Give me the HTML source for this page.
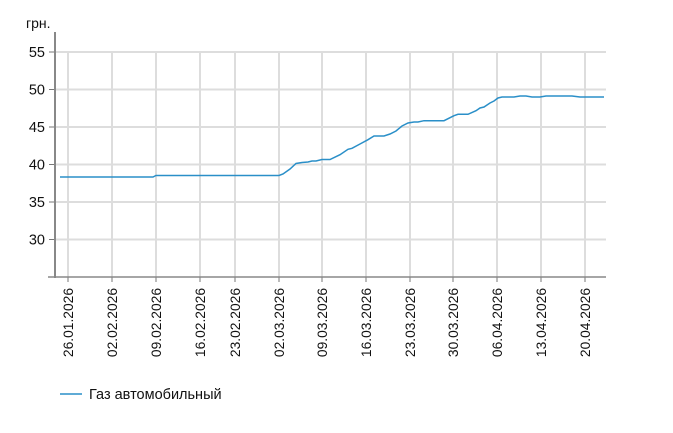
<!DOCTYPE html>
<html><head><meta charset="utf-8"><style>html,body{margin:0;padding:0;background:#fff}</style></head>
<body>
<svg width="673" height="428" xmlns="http://www.w3.org/2000/svg" font-family="Liberation Sans, Arial, sans-serif">
<g stroke="#dddddd" stroke-width="2">
<line x1="56" y1="52" x2="606" y2="52"/><line x1="56" y1="89.5" x2="606" y2="89.5"/><line x1="56" y1="127" x2="606" y2="127"/><line x1="56" y1="164.5" x2="606" y2="164.5"/><line x1="56" y1="202" x2="606" y2="202"/><line x1="56" y1="239.5" x2="606" y2="239.5"/>
<line x1="68" y1="52" x2="68" y2="277"/><line x1="112" y1="52" x2="112" y2="277"/><line x1="156" y1="52" x2="156" y2="277"/><line x1="200" y1="52" x2="200" y2="277"/><line x1="235" y1="52" x2="235" y2="277"/><line x1="279" y1="52" x2="279" y2="277"/><line x1="322" y1="52" x2="322" y2="277"/><line x1="366" y1="52" x2="366" y2="277"/><line x1="410" y1="52" x2="410" y2="277"/><line x1="453" y1="52" x2="453" y2="277"/><line x1="497" y1="52" x2="497" y2="277"/><line x1="541" y1="52" x2="541" y2="277"/><line x1="585" y1="52" x2="585" y2="277"/>
</g>
<g stroke="#777" stroke-width="1">
<line x1="49" y1="52" x2="55" y2="52"/><line x1="49" y1="89.5" x2="55" y2="89.5"/><line x1="49" y1="127" x2="55" y2="127"/><line x1="49" y1="164.5" x2="55" y2="164.5"/><line x1="49" y1="202" x2="55" y2="202"/><line x1="49" y1="239.5" x2="55" y2="239.5"/>
<line x1="68" y1="277" x2="68" y2="282"/><line x1="112" y1="277" x2="112" y2="282"/><line x1="156" y1="277" x2="156" y2="282"/><line x1="200" y1="277" x2="200" y2="282"/><line x1="235" y1="277" x2="235" y2="282"/><line x1="279" y1="277" x2="279" y2="282"/><line x1="322" y1="277" x2="322" y2="282"/><line x1="366" y1="277" x2="366" y2="282"/><line x1="410" y1="277" x2="410" y2="282"/><line x1="453" y1="277" x2="453" y2="282"/><line x1="497" y1="277" x2="497" y2="282"/><line x1="541" y1="277" x2="541" y2="282"/><line x1="585" y1="277" x2="585" y2="282"/>
</g>
<line x1="55" y1="32" x2="55" y2="278" stroke="#888" stroke-width="2"/>
<line x1="48" y1="277" x2="606" y2="277" stroke="#888" stroke-width="1.5"/>
<g font-size="14.5" fill="#111" text-anchor="end">
<text x="45" y="57">55</text><text x="45" y="94.5">50</text><text x="45" y="132">45</text><text x="45" y="169.5">40</text><text x="45" y="207">35</text><text x="45" y="244.5">30</text>
</g>
<text x="26" y="28" font-size="14" fill="#111">грн.</text>
<g font-size="13.8" fill="#111" text-anchor="end">
<text transform="translate(73,288) rotate(-90)">26.01.2026</text>
<text transform="translate(117,288) rotate(-90)">02.02.2026</text>
<text transform="translate(161,288) rotate(-90)">09.02.2026</text>
<text transform="translate(205,288) rotate(-90)">16.02.2026</text>
<text transform="translate(240,288) rotate(-90)">23.02.2026</text>
<text transform="translate(284,288) rotate(-90)">02.03.2026</text>
<text transform="translate(327,288) rotate(-90)">09.03.2026</text>
<text transform="translate(371,288) rotate(-90)">16.03.2026</text>
<text transform="translate(415,288) rotate(-90)">23.03.2026</text>
<text transform="translate(458,288) rotate(-90)">30.03.2026</text>
<text transform="translate(502,288) rotate(-90)">06.04.2026</text>
<text transform="translate(546,288) rotate(-90)">13.04.2026</text>
<text transform="translate(590,288) rotate(-90)">20.04.2026</text>
</g>
<polyline fill="none" stroke="#2a8fc8" stroke-width="1.5" points="60,177 153,177 156,175.5 279,175.5 283,174 290,169 296,163.5 302,162.5 308,162 312,161 316,161 322,159.5 330,159.5 340,154.7 348,149.3 352,148.3 360,144 368,139.7 374,136 384,136 390,134 396,131 402,126 408,123 414,122 418,122 424,120.7 444,120.7 454,115.7 458,114.3 468,114.3 476,110.7 480,108 484,107 490,103 494,101 498,98 502,97 514,97 520,96 526,96 532,97 540,97 546,96 572,96 580,97 604,97"/>
<line x1="60" y1="394" x2="82" y2="394" stroke="#2a8fc8" stroke-width="1.5"/>
<text x="89" y="399" font-size="14.5" fill="#111">Газ автомобильный</text>
</svg>
</body></html>
